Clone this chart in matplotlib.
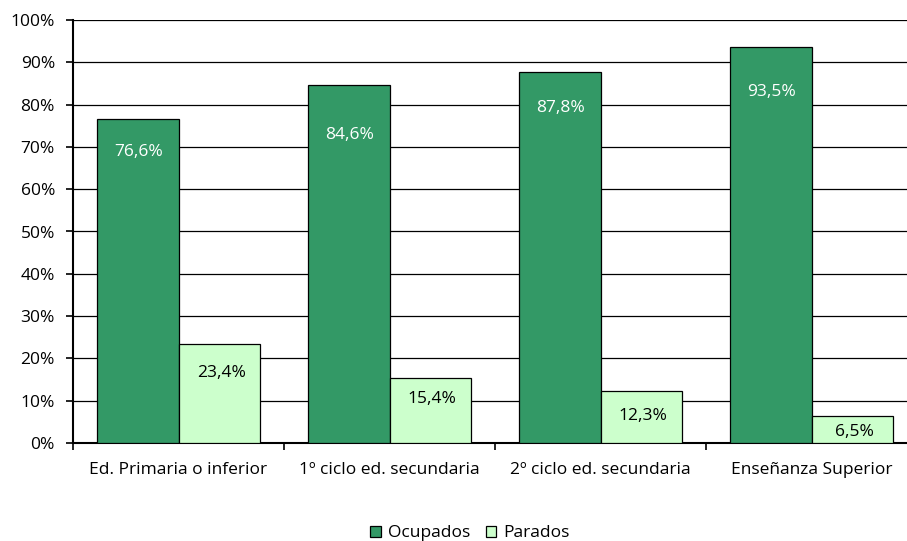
import numpy as np
import matplotlib.pyplot as plt
from matplotlib.ticker import FuncFormatter

# datos
categorias = ["Ed. Primaria o inferior", "1º ciclo ed. secundaria",
              "2º ciclo ed. secundaria", "Enseñanza Superior"]
ocupados = [76.6, 84.6, 87.8, 93.5]
parados = [23.4, 15.4, 12.3, 6.5]

plt.rcParams['font.family'] = ['Open Sans', 'DejaVu Sans']
plt.rcParams['font.size'] = 12.5

fig = plt.figure(figsize=(9.07, 5.41), dpi=100)
# el área del gráfico sobresale por la derecha (como en el original)
ax = fig.add_axes([73 / 907, 98 / 541, 844 / 907, 423 / 541])

x = np.arange(len(categorias))
w = 0.386
b1 = ax.bar(x - w / 2, ocupados, w, color='#339966', edgecolor='black', linewidth=0.9,
            label='Ocupados', zorder=3)
b2 = ax.bar(x + w / 2, parados, w, color='#CCFFCC', edgecolor='black', linewidth=0.9,
            label='Parados', zorder=3)

fmt = lambda v: f"{v:.1f}%".replace('.', ',')
# desplazamiento de las etiquetas bajo el borde superior (px)
off_ocu = [33, 50, 36, 45]
off_par = [29, 21, 25, 16]
for xi, v, d in zip(x - w / 2, ocupados, off_ocu):
    ax.annotate(fmt(v), (xi, v), xytext=(1, -d), textcoords='offset pixels',
                ha='center', va='center', color='white', zorder=4)
for xi, v, d in zip(x + w / 2, parados, off_par):
    ax.annotate(fmt(v), (xi, v), xytext=(2, -d), textcoords='offset pixels',
                ha='center', va='center', color='black', zorder=4)

ax.set_ylim(0, 100)
ax.set_xlim(-0.5, 3.5)
ax.set_yticks(np.arange(0, 101, 10))
ax.yaxis.set_major_formatter(FuncFormatter(lambda v, p: f"{int(v)}%"))
ax.yaxis.grid(True, color='black', linewidth=0.9, zorder=0)
ax.set_xticks(x)
ax.set_xticklabels(categorias)
ax.tick_params(axis='x', length=0, pad=14)
ax.set_xticks(np.arange(-0.5, 3.6, 1), minor=True)
ax.tick_params(axis='x', which='minor', length=5, width=1.2)
ax.tick_params(axis='y', length=5, width=1.2, pad=8)

for s in ['top', 'right']:
    ax.spines[s].set_visible(False)
ax.spines['left'].set_linewidth(1.5)
ax.spines['bottom'].set_linewidth(1.5)

fig.legend(handles=[b1, b2], labels=['Ocupados', 'Parados'], loc='center',
           bbox_to_anchor=(0.518, 0.014), ncol=2, frameon=False,
           handlelength=0.6, handleheight=0.6, handletextpad=0.4, columnspacing=0.9)

fig.savefig('out.png', dpi=100)
